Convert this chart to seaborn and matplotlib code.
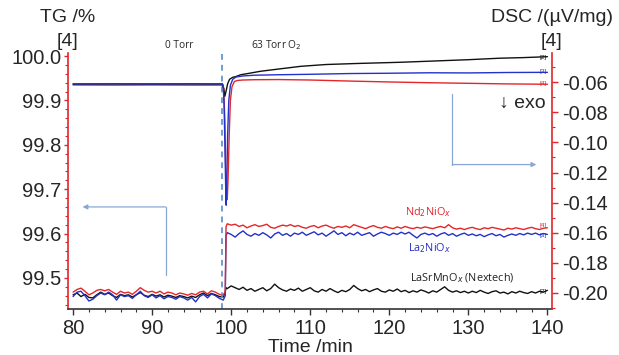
import matplotlib
matplotlib.use("Agg")
import matplotlib.pyplot as plt
import seaborn as sns
from matplotlib.ticker import MultipleLocator, FormatStrFormatter

# ---------------- data ----------------
# TG (left axis) sampling times
time_tg = [
    80.0, 80.5, 81.0, 81.5, 82.0, 82.5, 83.0, 83.5, 84.0, 84.5,
    85.0, 85.5, 86.0, 86.5, 87.0, 87.5, 88.0, 88.5, 89.0, 89.5,
    90.0, 90.5, 91.0, 91.5, 92.0, 92.5, 93.0, 93.5, 94.0, 94.5,
    95.0, 95.5, 96.0, 96.5, 97.0, 97.5, 98.0, 98.5, 99.0,
    99.25, 99.35,
    99.5, 100.0, 100.5, 101.0, 101.5, 102.0, 102.5, 103.0, 103.5, 104.0,
    104.5, 105.0, 105.5, 106.0, 106.5, 107.0, 107.5, 108.0, 108.5, 109.0,
    109.5, 110.0, 110.5, 111.0, 111.5, 112.0, 112.5, 113.0, 113.5, 114.0,
    114.5, 115.0, 115.5, 116.0, 116.5, 117.0, 117.5, 118.0, 118.5, 119.0,
    119.5, 120.0, 120.5, 121.0, 121.5, 122.0, 122.5, 123.0, 123.5, 124.0,
    124.5, 125.0, 125.5, 126.0, 126.5, 127.0, 127.5, 128.0, 128.5, 129.0,
    129.5, 130.0, 130.5, 131.0, 131.5, 132.0, 132.5, 133.0, 133.5, 134.0,
    134.5, 135.0, 135.5, 136.0, 136.5, 137.0, 137.5, 138.0, 138.5, 139.0,
    139.5, 140.0,
]

tg_nd = [
    99.468, 99.474, 99.477, 99.470, 99.462, 99.466, 99.472, 99.474, 99.471, 99.474,
    99.468, 99.463, 99.470, 99.466, 99.468, 99.463, 99.470, 99.478, 99.472, 99.468,
    99.470, 99.466, 99.470, 99.464, 99.468, 99.466, 99.462, 99.466, 99.464, 99.461,
    99.465, 99.462, 99.468, 99.470, 99.464, 99.471, 99.468, 99.463, 99.461,
    99.470, 99.615,
    99.622, 99.619, 99.621, 99.616, 99.619, 99.613, 99.617, 99.620, 99.616, 99.618,
    99.621, 99.614, 99.612, 99.616, 99.619, 99.617, 99.620, 99.616, 99.618, 99.614,
    99.612, 99.616, 99.618, 99.613, 99.617, 99.619, 99.615, 99.612, 99.616, 99.614,
    99.617, 99.613, 99.620, 99.617, 99.614, 99.611, 99.615, 99.618, 99.614, 99.612,
    99.616, 99.613, 99.611, 99.615, 99.612, 99.616, 99.613, 99.611, 99.614, 99.612,
    99.615, 99.613, 99.611, 99.614, 99.616, 99.613, 99.620, 99.613, 99.610, 99.612,
    99.609, 99.612, 99.614, 99.611, 99.609, 99.613, 99.611, 99.614, 99.612, 99.610,
    99.608, 99.612, 99.610, 99.613, 99.611, 99.609, 99.612, 99.614, 99.611, 99.609,
    99.612, 99.613,
]

tg_la = [
    99.458, 99.468, 99.470, 99.460, 99.448, 99.452, 99.460, 99.466, 99.462, 99.468,
    99.462, 99.450, 99.462, 99.458, 99.460, 99.454, 99.462, 99.470, 99.460, 99.456,
    99.462, 99.455, 99.460, 99.453, 99.458, 99.456, 99.452, 99.458, 99.455, 99.450,
    99.456, 99.446, 99.458, 99.463, 99.455, 99.464, 99.460, 99.454, 99.450,
    99.460, 99.595,
    99.602, 99.598, 99.592, 99.600, 99.606, 99.598, 99.594, 99.600, 99.596, 99.602,
    99.597, 99.590, 99.599, 99.603, 99.596, 99.600, 99.594, 99.601, 99.598, 99.603,
    99.596, 99.600, 99.604, 99.597, 99.601, 99.594, 99.600, 99.606, 99.598, 99.602,
    99.595, 99.601, 99.597, 99.603, 99.596, 99.599, 99.602, 99.594, 99.599, 99.603,
    99.600, 99.596, 99.601, 99.598, 99.603, 99.599, 99.603, 99.596, 99.590, 99.598,
    99.601, 99.597, 99.600, 99.594, 99.599, 99.602, 99.596, 99.600, 99.594, 99.598,
    99.601, 99.596, 99.599, 99.595, 99.598, 99.593, 99.597, 99.600, 99.595, 99.598,
    99.592, 99.596, 99.599, 99.596, 99.600, 99.597, 99.601, 99.598, 99.601, 99.597,
    99.600, 99.598,
]

tg_lsm = [
    99.462, 99.466, 99.458, 99.463, 99.456, 99.455, 99.462, 99.468, 99.463, 99.466,
    99.460, 99.456, 99.463, 99.460, 99.462, 99.457, 99.462, 99.467, 99.461, 99.458,
    99.463, 99.459, 99.462, 99.457, 99.461, 99.459, 99.456, 99.460, 99.458, 99.455,
    99.459, 99.456, 99.462, 99.466, 99.460, 99.465, 99.462, 99.458, 99.457,
    99.468, 99.478,
    99.476, 99.482, 99.478, 99.474, 99.479, 99.472, 99.476, 99.470, 99.474, 99.478,
    99.471, 99.476, 99.486, 99.478, 99.473, 99.470, 99.475, 99.472, 99.477, 99.470,
    99.474, 99.478, 99.471, 99.468, 99.474, 99.470, 99.476, 99.471, 99.467, 99.472,
    99.469, 99.474, 99.483, 99.476, 99.471, 99.474, 99.469, 99.473, 99.476, 99.470,
    99.468, 99.473, 99.470, 99.475, 99.469, 99.472, 99.467, 99.471, 99.468, 99.473,
    99.470, 99.466, 99.471, 99.468, 99.474, 99.480, 99.472, 99.468, 99.471, 99.467,
    99.470, 99.466, 99.470, 99.467, 99.472, 99.468, 99.465, 99.469, 99.471, 99.466,
    99.468, 99.464, 99.469, 99.466, 99.470, 99.467, 99.465, 99.469, 99.466, 99.470,
    99.468, 99.472,
]

# DSC (right axis)
time_dsc_la = [80, 85, 90, 95, 98.9, 99.0, 99.1, 99.2, 99.3, 99.37, 99.45, 99.55,
               99.7, 99.9, 100.2, 100.6, 101.5, 103, 106, 110, 115, 120, 125,
               130, 135, 140]
dsc_la = [-0.0611, -0.0610, -0.0611, -0.0610, -0.0611, -0.0630, -0.0750,
          -0.1000, -0.1280, -0.1417, -0.1250, -0.0950, -0.0720, -0.0620,
          -0.0580, -0.0565, -0.0558, -0.0553, -0.0550, -0.0547, -0.0542,
          -0.0540, -0.0537, -0.0538, -0.0535, -0.0534]

time_dsc_nd = [80, 85, 90, 95, 98.9, 99.05, 99.2, 99.3, 99.4, 99.5, 99.6, 99.75,
               99.9, 100.1, 100.4, 100.8, 101.5, 103, 106, 110, 115, 120, 125,
               130, 135, 140]
dsc_nd = [-0.0618, -0.0619, -0.0618, -0.0619, -0.0619, -0.0640, -0.0850,
          -0.1150, -0.1350, -0.1380, -0.1250, -0.0950, -0.0720, -0.0630,
          -0.0595, -0.0588, -0.0585, -0.0583, -0.0582, -0.0585, -0.0592,
          -0.0598, -0.0603, -0.0607, -0.0611, -0.0613]

time_dsc_lsm = [80, 85, 90, 95, 98.9, 99.05, 99.2, 99.35, 99.55, 99.8, 100.2,
                100.6, 101.2, 102, 103.7, 106, 108.8, 112, 116, 121.5, 126,
                130, 134, 137, 140]
dsc_lsm = [-0.0612, -0.0611, -0.0612, -0.0611, -0.0612, -0.0640, -0.0693,
           -0.0660, -0.0610, -0.0580, -0.0567, -0.0562, -0.0550, -0.0543,
           -0.0527, -0.0512, -0.0494, -0.0482, -0.0475, -0.0467, -0.0458,
           -0.0450, -0.0440, -0.0436, -0.0430]

assert len(time_tg) == len(tg_nd) == len(tg_la) == len(tg_lsm), (
    len(time_tg), len(tg_nd), len(tg_la), len(tg_lsm))

RED = "#e3262b"
BLUE = "#2431c8"
BLACK = "#111111"
ARROW = "#8aa6d6"
DASH = "#5a8cc8"

# ---------------- plot ----------------
sns.set_theme(style="white")
plt.rcParams["font.family"] = ["Liberation Sans", "DejaVu Sans"]

fig = plt.figure(figsize=(6.19, 3.55), dpi=100)
ax = fig.add_axes([0.110, 0.1296, 0.782, 0.7213])
ax2 = ax.twinx()

lw = 1.0
sns.lineplot(x=time_tg, y=tg_lsm, ax=ax, color=BLACK, lw=lw, estimator=None)
sns.lineplot(x=time_tg, y=tg_la, ax=ax, color=BLUE, lw=lw, estimator=None)
sns.lineplot(x=time_tg, y=tg_nd, ax=ax, color=RED, lw=lw, estimator=None)

sns.lineplot(x=time_dsc_nd, y=dsc_nd, ax=ax2, color=RED, lw=lw, estimator=None)
sns.lineplot(x=time_dsc_lsm, y=dsc_lsm, ax=ax2, color=BLACK, lw=lw, estimator=None)
sns.lineplot(x=time_dsc_la, y=dsc_la, ax=ax2, color=BLUE, lw=lw, estimator=None)

ax.set_xlim(79.37, 140.6)
ax.set_ylim(99.430, 100.007)
ax2.set_ylim(-0.2107, -0.0405)

ax.axvline(98.8, color=DASH, lw=1.2, ls=(0, (3.5, 3)))

# spines
for a in (ax, ax2):
    a.spines["top"].set_visible(False)
ax.spines["right"].set_visible(False)
ax2.spines["left"].set_visible(False)
ax2.spines["bottom"].set_visible(False)
ax.spines["left"].set_color(RED)
ax2.spines["right"].set_color(RED)
ax.spines["bottom"].set_color("#333333")
for s in (ax.spines["left"], ax2.spines["right"], ax.spines["bottom"]):
    s.set_linewidth(1.2)

# ticks
ax.xaxis.set_major_locator(MultipleLocator(10))
ax.xaxis.set_minor_locator(MultipleLocator(2))
ax.yaxis.set_major_locator(MultipleLocator(0.1))
ax.yaxis.set_minor_locator(MultipleLocator(0.02))
ax.yaxis.set_major_formatter(FormatStrFormatter("%.1f"))
ax2.yaxis.set_major_locator(MultipleLocator(0.02))
ax2.yaxis.set_minor_locator(MultipleLocator(0.01))
ax2.yaxis.set_major_formatter(FormatStrFormatter("%.2f"))

ax.tick_params(axis="x", which="both", direction="out", color="#333333",
               labelsize=14.5, pad=3, bottom=True)
ax.tick_params(axis="x", which="major", length=4, width=1)
ax.tick_params(axis="x", which="minor", length=2.5, width=0.8)
ax.tick_params(axis="y", which="both", direction="out", color=RED,
               labelsize=14.5, pad=2, left=True)
ax.tick_params(axis="y", which="major", length=3, width=1)
ax.tick_params(axis="y", which="minor", length=2, width=0.8)
ax2.tick_params(axis="y", which="both", direction="out", color=RED,
                labelsize=14.5, pad=3, right=True)
ax2.tick_params(axis="y", which="major", length=4, width=1)
ax2.tick_params(axis="y", which="minor", length=2.5, width=0.8)

ax.set_xlabel("Time /min", fontsize=14, labelpad=1)
ax.set_ylabel("")
ax2.set_ylabel("")

# axis titles
fig.text(68 / 619, 1 - 18 / 355, "TG /%", ha="center", va="center", fontsize=14)
fig.text(68 / 619, 1 - 41 / 355, "[4]", ha="center", va="center", fontsize=14)
fig.text(552 / 619, 1 - 18 / 355, "DSC /(µV/mg)", ha="center", va="center", fontsize=14)
fig.text(552 / 619, 1 - 41 / 355, "[4]", ha="center", va="center", fontsize=14)
fig.text(522 / 619, 1 - 103 / 355, "↓ exo", ha="center", va="center", fontsize=14)

small = ["Open Sans", "DejaVu Sans"]
fig.text(179 / 619, 1 - 45 / 355, "0 Torr", ha="center", va="center",
         fontsize=7.3, family=small)
fig.text(276 / 619, 1 - 45 / 355, "63 Torr O$_2$", ha="center", va="center",
         fontsize=7.3, family=small)
fig.text(428 / 619, 1 - 212 / 355, "Nd$_2$NiO$_x$", ha="center", va="center",
         fontsize=7.8, family=small, color=RED)
fig.text(430 / 619, 1 - 248 / 355, "La$_2$NiO$_x$", ha="center", va="center",
         fontsize=7.8, family=small, color=BLUE)
fig.text(410 / 619, 1 - 278 / 355, "LaSrMnO$_x$ (Nextech)", ha="left", va="center",
         fontsize=7.8, family=small, color="#222222")

# curve end tags
for ypix, txt, col in [(57, "[2]", BLACK), (72, "[3]", BLUE), (84, "[4]", RED),
                       (226, "[4]", RED), (235, "[3]", BLUE), (292, "[2]", BLACK)]:
    fig.text(543 / 619, 1 - ypix / 355, txt, ha="center", va="center",
             fontsize=4.5, color=col)

# arrows
ax.plot([91.7, 91.7], [99.507, 99.660], color=ARROW, lw=0.9)
ax.annotate("", xy=(81.2, 99.660), xytext=(91.7, 99.660),
            arrowprops=dict(arrowstyle="-|>", color=ARROW, lw=0.9,
                            mutation_scale=7, shrinkA=0, shrinkB=0))
ax2.plot([127.97, 127.97], [-0.068, -0.1147], color=ARROW, lw=0.9)
ax2.annotate("", xy=(138.6, -0.1147), xytext=(127.97, -0.1147),
             arrowprops=dict(arrowstyle="-|>", color=ARROW, lw=0.9,
                             mutation_scale=7, shrinkA=0, shrinkB=0))

fig.savefig("out.png", dpi=100)
